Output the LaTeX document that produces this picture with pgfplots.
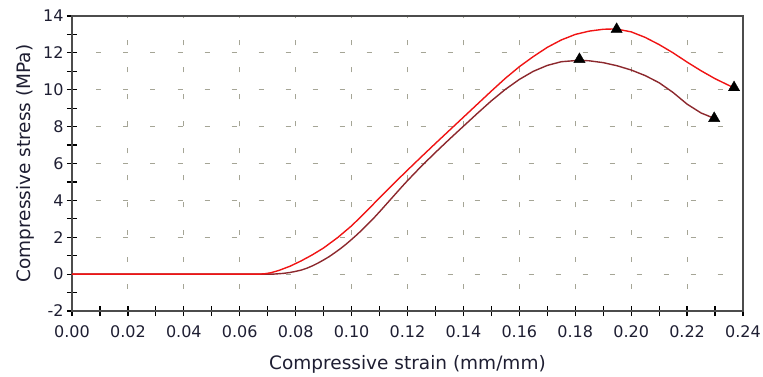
\documentclass[border=0pt]{standalone}
\usepackage{fontspec}
\setmainfont{DejaVu Sans}
\usepackage{pgfplots}
\pgfplotsset{compat=1.18}
\definecolor{cred}{RGB}{240,20,20}
\definecolor{cdark}{RGB}{140,40,45}
\definecolor{cgrid}{RGB}{165,165,150}
\definecolor{ctext}{RGB}{30,30,50}
\begin{document}
\begin{tikzpicture}
\begin{axis}[
  scale only axis, width=671bp, height=295bp,
  xmin=0, xmax=0.24, ymin=-2, ymax=14,
  xtick={0,0.02,0.04,0.06,0.08,0.10,0.12,0.14,0.16,0.18,0.20,0.22,0.24},
  ytick={-2,0,2,4,6,8,10,12,14},
  minor x tick num=1, minor y tick num=1,
  xtick pos=left, ytick pos=left,
  tick align=center,
  major tick length=10bp, minor tick length=10bp,
  every tick/.style={black, line width=1.2bp},
  axis line style={line width=1.3bp, black!70},
  grid=major,
  x grid style={cgrid, line width=1bp, dash pattern=on 5bp off 22bp, dash phase=4.5bp},
  y grid style={cgrid, line width=1bp, dash pattern=on 5bp off 22bp, dash phase=2.5bp},
  /pgf/number format/assume math mode=true,
  xticklabel={\pgfmathprintnumber[fixed,fixed zerofill,precision=2,assume math mode=true]{\tick}},
  yticklabel={\pgfmathprintnumber[int detect,assume math mode=true]{\tick}},
  tick label style={font=\fontsize{16bp}{19bp}\selectfont, text=ctext},
  xticklabel style={yshift=-6bp},
  xlabel={Compressive strain (mm/mm)},
  ylabel={Compressive stress (MPa)},
  label style={font=\fontsize{18.5bp}{22bp}\selectfont, text=ctext},
  xlabel style={at={(axis description cs:0.5,0)}, anchor=center, yshift=-53bp},
  ylabel style={at={(axis description cs:0,0.5)}, anchor=center, yshift=47bp},
  clip=false,
]
\addplot[cdark, line width=1.4bp, line join=round] coordinates {
(0,0) (0.072,0) (0.0756,0.04) (0.078,0.09) (0.080,0.15) (0.082,0.22) (0.084,0.32) (0.086,0.45) (0.088,0.6) (0.090,0.77) (0.092,0.95)
(0.094,1.16) (0.096,1.38) (0.098,1.62) (0.100,1.88) (0.102,2.15) (0.104,2.44) (0.106,2.74) (0.108,3.05) (0.110,3.38) (0.112,3.72) (0.114,4.06) (0.116,4.4)
(0.118,4.74) (0.120,5.07) (0.125,5.86) (0.130,6.6) (0.135,7.32) (0.140,8.02) (0.145,8.72)
(0.150,9.4) (0.155,10.02) (0.160,10.56) (0.165,11.0) (0.170,11.32) (0.175,11.52)
(0.1815,11.6) (0.185,11.57) (0.190,11.47) (0.195,11.3) (0.200,11.07) (0.205,10.77)
(0.210,10.38) (0.215,9.85) (0.220,9.22) (0.225,8.74) (0.2297,8.45)
};
\addplot[cred, line width=1.4bp, line join=round] coordinates {
(0,0) (0.067,0) (0.069,0.02) (0.071,0.07) (0.074,0.2) (0.078,0.43) (0.082,0.72) (0.086,1.05)
(0.090,1.42) (0.095,1.98) (0.100,2.62) (0.105,3.36) (0.110,4.14) (0.115,4.9)
(0.120,5.64) (0.125,6.37) (0.130,7.09) (0.135,7.8) (0.140,8.51) (0.145,9.22)
(0.150,9.93) (0.155,10.62) (0.160,11.25) (0.165,11.8) (0.170,12.3) (0.175,12.7)
(0.180,13.0) (0.185,13.18) (0.190,13.28) (0.1945,13.3) (0.200,13.14) (0.205,12.84)
(0.210,12.45) (0.215,12.0) (0.220,11.5) (0.225,11.03) (0.230,10.6) (0.2368,10.1)
};
\addplot[only marks, mark=triangle*, mark size=6.5bp, black] coordinates {
(0.1815,11.65) (0.2297,8.45) (0.1948,13.28) (0.2368,10.12)
};
\end{axis}
\pgfresetboundingbox
\path[use as bounding box] (current axis.south west) ++(-72bp,-66bp) rectangle ++(763bp,377bp);
\end{tikzpicture}
\end{document}
